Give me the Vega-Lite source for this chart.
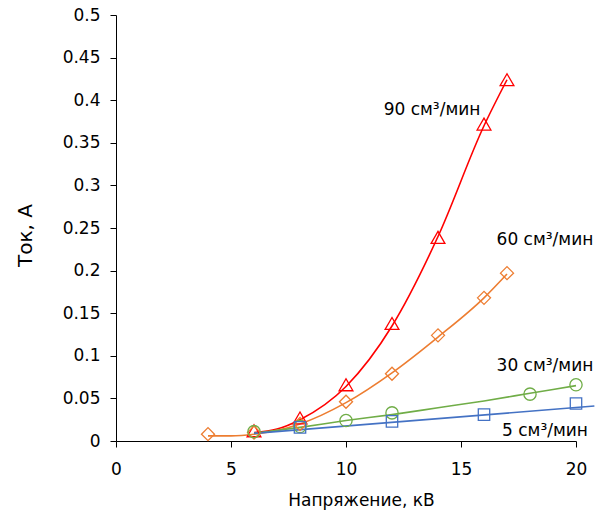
{
  "$schema": "https://vega.github.io/schema/vega-lite/v6.json",
  "width": 460,
  "height": 426,
  "autosize": "none",
  "padding": {"left": 116, "top": 15, "right": 27, "bottom": 69},
  "config": {
    "view": {"stroke": null},
    "font": "DejaVu Sans",
    "axis": {
      "grid": false,
      "domainColor": "#000000",
      "tickColor": "#000000",
      "tickSize": 6,
      "labelFlush": false,
      "labelColor": "#000000",
      "titleColor": "#000000",
      "labelFont": "DejaVu Sans",
      "titleFont": "DejaVu Sans",
      "labelFontSize": 17,
      "titleFontSize": 17,
      "titleFontWeight": "normal"
    }
  },
  "datasets": {
    "pts": [
      {"s": "90", "x": 6, "y": 0.012}, {"s": "90", "x": 8, "y": 0.027}, {"s": "90", "x": 10, "y": 0.066},
      {"s": "90", "x": 12, "y": 0.138}, {"s": "90", "x": 14, "y": 0.239}, {"s": "90", "x": 16, "y": 0.372},
      {"s": "90", "x": 17, "y": 0.424},
      {"s": "60", "x": 4, "y": 0.008}, {"s": "60", "x": 6, "y": 0.010}, {"s": "60", "x": 8, "y": 0.020},
      {"s": "60", "x": 10, "y": 0.046}, {"s": "60", "x": 12, "y": 0.079}, {"s": "60", "x": 14, "y": 0.124},
      {"s": "60", "x": 16, "y": 0.168}, {"s": "60", "x": 17, "y": 0.197},
      {"s": "30", "x": 6, "y": 0.011}, {"s": "30", "x": 8, "y": 0.017}, {"s": "30", "x": 10, "y": 0.024},
      {"s": "30", "x": 12, "y": 0.033}, {"s": "30", "x": 18, "y": 0.055}, {"s": "30", "x": 20, "y": 0.066},
      {"s": "5", "x": 8, "y": 0.016}, {"s": "5", "x": 12, "y": 0.023}, {"s": "5", "x": 16, "y": 0.031},
      {"s": "5", "x": 20, "y": 0.044}
    ],
    "fit": [
      {"s": "90", "x": 6, "y": 0.010}, {"s": "90", "x": 7, "y": 0.014}, {"s": "90", "x": 8, "y": 0.025},
      {"s": "90", "x": 10, "y": 0.064}, {"s": "90", "x": 12, "y": 0.135}, {"s": "90", "x": 14, "y": 0.240},
      {"s": "90", "x": 16, "y": 0.370}, {"s": "90", "x": 17, "y": 0.424},
      {"s": "60", "x": 4, "y": 0.006}, {"s": "60", "x": 5, "y": 0.006}, {"s": "60", "x": 6, "y": 0.008},
      {"s": "60", "x": 8, "y": 0.020}, {"s": "60", "x": 10, "y": 0.045}, {"s": "60", "x": 12, "y": 0.080},
      {"s": "60", "x": 14, "y": 0.122}, {"s": "60", "x": 16, "y": 0.168}, {"s": "60", "x": 17, "y": 0.196},
      {"s": "30", "x": 6, "y": 0.009}, {"s": "30", "x": 8, "y": 0.016}, {"s": "30", "x": 10, "y": 0.024},
      {"s": "30", "x": 12, "y": 0.031}, {"s": "30", "x": 14, "y": 0.039}, {"s": "30", "x": 16, "y": 0.047},
      {"s": "30", "x": 18, "y": 0.056}, {"s": "30", "x": 20, "y": 0.065},
      {"s": "5", "x": 6, "y": 0.009}, {"s": "5", "x": 20.8, "y": 0.041}
    ],
    "labels": [
      {"x": 13.74, "y": 0.389, "t": "90 см³/мин"},
      {"x": 18.65, "y": 0.236, "t": "60 см³/мин"},
      {"x": 18.65, "y": 0.088, "t": "30 см³/мин"},
      {"x": 18.65, "y": 0.012, "t": "5 см³/мин"}
    ]
  },
  "layer": [
    {
      "data": {"name": "fit"},
      "mark": {"type": "line", "interpolate": "monotone", "strokeWidth": 1.6, "clip": false},
      "encoding": {
        "x": {"field": "x", "type": "quantitative", "scale": {"domain": [0, 20], "nice": false},
              "axis": {"title": "Напряжение, кВ", "values": [0, 5, 10, 15, 20], "labelPadding": 14, "titlePadding": 15, "titleX": 245}},
        "y": {"field": "y", "type": "quantitative", "scale": {"domain": [0, 0.5], "nice": false},
              "axis": {"title": "Ток, А", "values": [0, 0.05, 0.1, 0.15, 0.2, 0.25, 0.3, 0.35, 0.4, 0.45, 0.5], "format": "~g", "labelPadding": 10, "titlePadding": 27, "titleFontSize": 20, "titleY": 220}},
        "color": {"field": "s", "type": "nominal", "legend": null,
                  "scale": {"domain": ["90", "60", "30", "5"], "range": ["#FF0000", "#ED7D31", "#70AD47", "#4472C4"]}},
        "detail": {"field": "s"}
      }
    },
    {
      "data": {"name": "pts"},
      "mark": {"type": "point", "filled": false, "strokeWidth": 1.3, "opacity": 1},
      "encoding": {
        "x": {"field": "x", "type": "quantitative"},
        "y": {"field": "y", "type": "quantitative"},
        "color": {"field": "s", "type": "nominal", "legend": null},
        "shape": {"field": "s", "type": "nominal", "legend": null,
                  "scale": {"domain": ["90", "60", "30", "5"], "range": ["triangle-up", "diamond", "circle", "square"]}},
        "size": {"field": "s", "type": "nominal", "legend": null,
                 "scale": {"domain": ["90", "60", "30", "5"], "range": [190, 130, 160, 150]}}
      }
    },
    {
      "data": {"name": "labels"},
      "mark": {"type": "text", "fontSize": 17, "color": "#000000", "align": "center", "baseline": "middle", "font": "DejaVu Sans"},
      "encoding": {
        "x": {"field": "x", "type": "quantitative"},
        "y": {"field": "y", "type": "quantitative"},
        "text": {"field": "t"}
      }
    }
  ]
}
